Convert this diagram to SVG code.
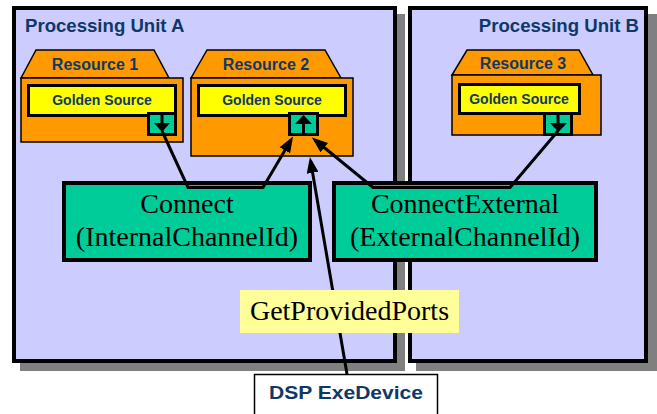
<svg xmlns="http://www.w3.org/2000/svg" width="657" height="414" viewBox="0 0 657 414">
<defs>
<style>
.shadow{fill:#808080}
.unit{fill:#CCCCFF;stroke:#000;stroke-width:4}
.title{font-family:"Liberation Sans",Arial,sans-serif;font-weight:bold;font-size:18.6px;fill:#0F3868}
.res{fill:#FF9900;stroke:#000;stroke-width:1.5}
.rlabel{font-family:"Liberation Sans",Arial,sans-serif;font-weight:bold;font-size:16px;fill:#0F3868;text-anchor:middle}
.gold{fill:#FFFF00;stroke:#000;stroke-width:3}
.glabel{font-family:"Liberation Sans",Arial,sans-serif;font-weight:bold;font-size:14px;fill:#0F3868;text-anchor:middle}
.port{fill:#00CC99;stroke:#000;stroke-width:3}
.op{fill:#00CC99;stroke:#000;stroke-width:4}
.serif{font-family:"Liberation Serif","Times New Roman",serif;font-size:28px;fill:#000;text-anchor:middle}
.conn{fill:none;stroke:#000;stroke-width:3;stroke-linejoin:miter}
</style>
<marker id="ah" viewBox="0 0 16 12" refX="12" refY="6" markerWidth="16" markerHeight="12" markerUnits="userSpaceOnUse" orient="auto">
<path d="M0,0 L16,6 L0,12 z" fill="#000"/>
</marker>
</defs>
<rect width="657" height="414" fill="#fff"/>

<g id="unitA">
<rect class="shadow" x="20" y="14" width="385" height="357"/>
<rect class="unit" x="14" y="8" width="381" height="353"/>
<text class="title" x="25" y="32">Processing Unit A</text>
</g>
<g id="unitB">
<rect class="shadow" x="416" y="14" width="241" height="357"/>
<rect class="unit" x="410" y="8" width="236" height="353"/>
<text class="title" x="639" y="32" text-anchor="end">Processing Unit B</text>
</g>

<g id="resource1">
<polygon class="res" points="21,78 36,50 154,50 169,78"/>
<rect class="res" x="21" y="78" width="162" height="64"/>
<text class="rlabel" x="95" y="70">Resource 1</text>
<rect class="gold" x="28.5" y="85.5" width="147" height="30"/>
<text class="glabel" x="102" y="105">Golden Source</text>
<rect class="port" x="148.5" y="113.5" width="27" height="21"/>
<line x1="162" y1="113" x2="162" y2="124" stroke="#000" stroke-width="3"/>
<polygon points="154,123 170,123 162,132" fill="#000"/>
</g>

<g id="resource2">
<polygon class="res" points="191,78 207,50 325,50 341,78"/>
<rect class="res" x="191" y="78" width="162" height="78"/>
<text class="rlabel" x="266" y="70">Resource 2</text>
<rect class="gold" x="198.5" y="85.5" width="147" height="30"/>
<text class="glabel" x="272" y="105">Golden Source</text>
<rect class="port" x="289.5" y="113.5" width="28" height="21"/>
<line x1="303.5" y1="123" x2="303.5" y2="135" stroke="#000" stroke-width="3"/>
<polygon points="295,124 312,124 303.5,115" fill="#000"/>
</g>

<g id="resource3">
<polygon class="res" points="452,75 467,50 579,50 593,75"/>
<rect class="res" x="452" y="75" width="149" height="60"/>
<text class="rlabel" x="523" y="69">Resource 3</text>
<rect class="gold" x="459.5" y="84.5" width="120" height="29"/>
<text class="glabel" x="519" y="104">Golden Source</text>
<rect class="port" x="544.5" y="113.5" width="27" height="21"/>
<line x1="558" y1="113" x2="558" y2="124" stroke="#000" stroke-width="3"/>
<polygon points="550,123 567,123 558.5,132" fill="#000"/>
</g>

<g id="connect">
<rect class="op" x="64" y="183" width="246" height="77"/>
<text class="serif" x="187" y="213">Connect</text>
<text class="serif" x="187" y="246">(InternalChannelId)</text>
</g>
<g id="connectExternal">
<rect class="op" x="334" y="183" width="262" height="77"/>
<text class="serif" x="465" y="213">ConnectExternal</text>
<text class="serif" x="465" y="246">(ExternalChannelId)</text>
</g>

<g id="dsp">
<rect x="254.5" y="374.5" width="183" height="50" fill="#fff" stroke="#000" stroke-width="1.5"/>
<text x="346" y="399" text-anchor="middle" style="font-family:'Liberation Sans',Arial,sans-serif;font-weight:bold;font-size:19px;fill:#0F3868" textLength="154" lengthAdjust="spacingAndGlyphs">DSP ExeDevice</text>
</g>

<g id="connectors">
<polyline class="conn" points="162,131 188,187.5 263,187.5 291,140" marker-end="url(#ah)"/>
<polyline class="conn" points="558,131 510,187.5 373,187.5 315,140" marker-end="url(#ah)"/>
<line class="conn" x1="347" y1="374" x2="310.6" y2="161" marker-end="url(#ah)"/>
</g>

<g id="getProvidedPorts">
<rect x="240" y="290" width="219" height="43" fill="#FFFF99"/>
<text class="serif" x="349.5" y="320">GetProvidedPorts</text>
</g>
</svg>
